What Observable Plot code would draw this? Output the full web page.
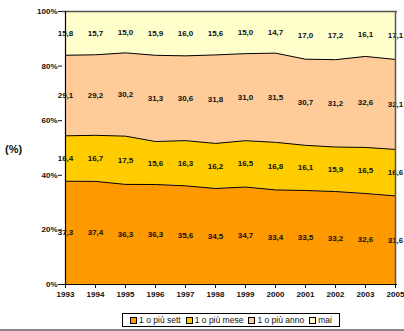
<!DOCTYPE html>
<html>
<head>
<meta charset="utf-8">
<script src="https://cdn.jsdelivr.net/npm/d3@7"></script>
<script src="https://cdn.jsdelivr.net/npm/@observablehq/plot@0.6"></script>
<style>
  body { margin: 0; background: #fff; font-family: "Liberation Sans", Arial, sans-serif; }
  #wrap { position: relative; width: 404px; height: 331px; overflow: hidden; }
  #chart { position: absolute; left: 0; top: 0; }
  #ylab { position: absolute; left: 5px; top: 143px; font-size: 11px; font-weight: bold; color: #111; }
  #legend {
    position: absolute; left: 122px; top: 313px; width: 216px; height: 12px;
    border: 1px solid #000; font-size: 8.5px; color: #111;
    display: flex; align-items: center; justify-content: center; gap: 5px; white-space: nowrap;
  }
  #legend .item { display: flex; align-items: center; gap: 2px; }
  #legend .sw { width: 5px; height: 5px; border: 1px solid #000; display: inline-block; }
  #rule { position: absolute; left: 0; top: 329px; width: 404px; height: 2px; background: #888; }
</style>
</head>
<body>
<div id="wrap">
  <div id="chart"></div>
  <div id="ylab">(%)</div>
  <div id="legend"></div>
  <div id="rule"></div>
</div>
<script>
// Survey years (the axis jumps from 2003 to 2005)
const years = ["1993", "1994", "1995", "1996", "1997", "1998", "1999", "2000", "2001", "2002", "2003", "2005"];

// Frequency classes, bottom to top
const series = ["1 o più sett", "1 o più mese", "1 o più anno", "mai"];
const colors = ["#FF9900", "#FFCC00", "#FFCC99", "#FFFFCC"];

// Percentages per class and year
const settimana = [37.3, 37.4, 36.3, 36.3, 35.6, 34.5, 34.7, 33.4, 33.5, 33.2, 32.6, 31.6];
const mese      = [16.4, 16.7, 17.5, 15.6, 16.3, 16.2, 16.5, 16.8, 16.1, 15.9, 16.5, 16.6];
const anno      = [29.1, 29.2, 30.2, 31.3, 30.6, 31.8, 31.0, 31.5, 30.7, 31.2, 32.6, 32.1];
const mai       = [15.8, 15.7, 15.0, 15.9, 16.0, 15.6, 15.0, 14.7, 17.0, 17.2, 16.1, 17.1];

const yTicks = [0, 0.2, 0.4, 0.6, 0.8, 1];

const valuesBySeries = [settimana, mese, anno, mai];
const data = [];
series.forEach((s, i) => {
  years.forEach((y, j) => data.push({ year: y, serie: s, value: valuesBySeries[i][j] }));
});

const fmt = v => v.toFixed(1).replace(".", ",");
const stackOpts = { offset: "normalize", order: series };

const chart = Plot.plot({
  width: 404,
  height: 308,
  marginLeft: 62,
  marginRight: 7,
  marginTop: 11,
  marginBottom: 24,
  style: { fontFamily: "Liberation Sans, Arial, sans-serif", background: "transparent" },
  x: { type: "point", domain: years, padding: 0 },
  y: { domain: [0, 1] },
  color: { domain: series, range: colors },
  marks: [
    Plot.areaY(data, Plot.stackY(stackOpts, {
      x: "year", y: "value", z: "serie", fill: "serie", curve: "linear"
    })),
    // boundaries between the bands (top of each stacked band)
    Plot.lineY(data, Plot.stackY2(stackOpts, {
      x: "year", y: "value", z: "serie", stroke: "#000", strokeWidth: 1
    })),
    Plot.text(data, Plot.stackY(stackOpts, {
      x: "year", y: "value", z: "serie", text: d => fmt(d.value),
      fontSize: 8, fontWeight: "bold", fill: "#111"
    })),
    Plot.ruleY([1], { stroke: "#555", strokeWidth: 1.5 }),
    Plot.ruleX(["2005"], { stroke: "#555", strokeWidth: 1.5 }),
    Plot.ruleY([0], { stroke: "#000", strokeWidth: 1 }),
    Plot.ruleX(["1993"], { stroke: "#000", strokeWidth: 1.2 }),
    Plot.axisY({
      ticks: yTicks, tickFormat: d => Math.round(d * 100) + "%", tickSize: 4, tickPadding: 1,
      fontSize: 8, fontWeight: "bold", label: null, color: "#111"
    }),
    Plot.axisX({
      tickSize: 4, tickPadding: 3, fontSize: 8, fontWeight: "bold", label: null, color: "#111"
    })
  ]
});
document.getElementById("chart").appendChild(chart);

// Legend
const legend = document.getElementById("legend");
series.forEach((s, i) => {
  const item = document.createElement("span");
  item.className = "item";
  const sw = document.createElement("span");
  sw.className = "sw";
  sw.style.background = colors[i];
  item.appendChild(sw);
  item.appendChild(document.createTextNode(s));
  legend.appendChild(item);
});
</script>
</body>
</html>
